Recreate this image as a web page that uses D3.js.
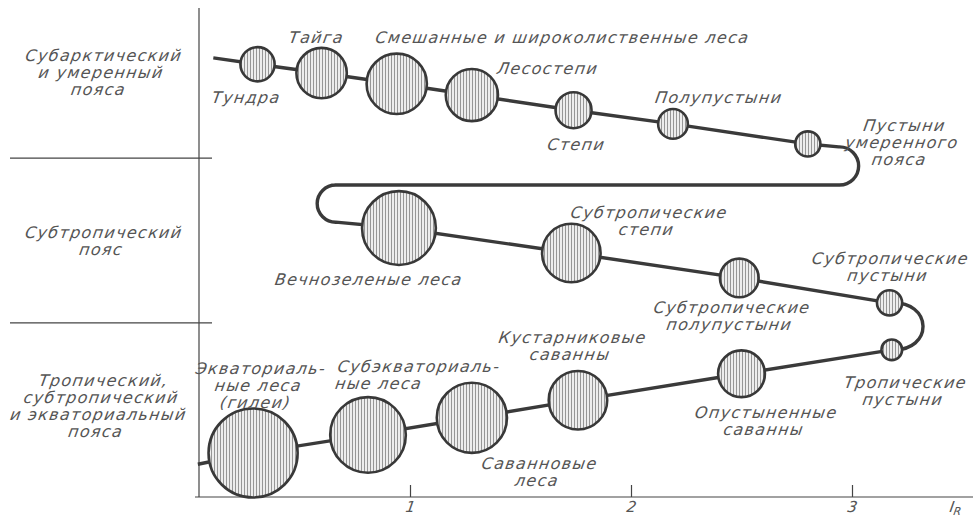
<!DOCTYPE html>
<html>
<head>
<meta charset="utf-8">
<script src="https://cdn.jsdelivr.net/npm/d3@7"></script>
<style>
    body { margin: 0; background: #fff; }
    text { font-family: "DejaVu Sans", sans-serif; font-style: italic; fill: #555; }
</style>
</head>
<body>
<div id="chart"></div>
<script>
// Biomes in the order the chain runs through them ("|" splits a label into lines)
const biomes = [
    "Тундра", "Тайга", "Смешанные и широколиственные леса", "Лесостепи", "Степи", "Полупустыни", "Пустыни|умеренного|пояса",
    "Вечнозеленые леса", "Субтропические|степи", "Субтропические|полупустыни", "Субтропические|пустыни",
    "Тропические|пустыни", "Опустыненные|саванны", "Кустарниковые|саванны", "Саванновые|леса",
    "Субэкваториаль-|ные леса", "Экваториаль-|ные леса|(гилеи)"
]
const belt         = [0, 0, 0, 0, 0, 0, 0, 1, 1, 1, 1, 2, 2, 2, 2, 2, 2]
const dryness      = [0.31, 0.60, 0.94, 1.28, 1.74, 2.19, 2.80, 0.95, 1.73, 2.49, 3.17, 3.18, 2.50, 1.76, 1.28, 0.81, 0.29]
const level        = [8.85, 8.67, 8.45, 8.22, 7.91, 7.63, 7.22, 5.50, 4.99, 4.48, 3.97, 3.01, 2.52, 1.98, 1.62, 1.27, 0.90]
const productivity = [3.8, 5.6, 6.7, 5.8, 4.0, 3.3, 2.8, 8.2, 6.5, 4.3, 2.8, 2.3, 5.2, 6.5, 7.8, 8.4, 9.9]

// Climatic belts on the left
const beltNames  = ["Субарктический|и умеренный|пояса", "Субтропический|пояс", "Тропический,|субтропический|и экваториальный|пояса"]
const beltLevels = [8.69, 5.24, 1.88]
const beltBounds = [6.93, 3.56]

const xTicks = [1, 2, 3]

// Turning points of the connecting line, as [dryness, level]
const chainStart = [0.11, 8.98]
const bendNorth  = [[2.94, 7.16], [3.03, 7.16], [3.03, 6.38], [2.94, 6.38]]
const bendWest   = [[0.66, 6.38], [0.58, 6.38], [0.58, 5.62], [0.66, 5.62]]
const bendSouth  = [[3.37, 4.03], [3.37, 2.97]]
const chainEnd   = [0.04, 0.67]

// Label placement relative to its circle: dx, dy (px), anchor
const labelLayout = [
    [-11, 33, "middle"], [-5, -36, "middle"], [-21, -47, "start"], [76, -27, "middle"],
    [3, 34, "middle"], [46, -27, "middle"], [97, -19, "middle"],
    [-30, 51, "middle"], [78, -41, "middle"], [-7, 29, "middle"], [1, -45, "middle"],
    [14, 32, "middle"], [25, 38, "middle"], [-5, -63, "middle"], [68, 45, "middle"],
    [-30, -69, "start"], [8, -85, "middle"]
]

const WIDTH = 973
const HEIGHT = 519
const AXIS = {LEFT: 199, TOP: 8, BOTTOM: 497, RIGHT: 973}
const LINE_H = 17
const SLANT = "skewX(-9)"   // hand-lettered italic leans more than the font

let svg = d3.select("#chart").append("svg")
    .attr("width", WIDTH)
    .attr("height", HEIGHT)

// vertical hatching used inside the circles
let pattern = svg.append("defs").append("pattern")
    .attr("id", "hatch")
    .attr("width", 3)
    .attr("height", 4)
    .attr("patternUnits", "userSpaceOnUse")
pattern.append("rect").attr("width", 3).attr("height", 4).attr("fill", "#ededed")
pattern.append("line")
    .attr("x1", 1.5).attr("x2", 1.5).attr("y1", 0).attr("y2", 4)
    .attr("stroke", "#8c8c8c").attr("stroke-width", 0.9)

let xScale = d3.scaleLinear().domain([1, 3]).range([410, 852])
let yScale = d3.scaleLinear().domain([0, 10]).range([AXIS.BOTTOM, AXIS.TOP])
let rScale = d3.scaleLinear().domain([0, 10]).range([0, 45])

const P = p => [xScale(p[0]), yScale(p[1])]
const idx = d3.range(biomes.length)
const beltIdx = b => idx.filter(i => belt[i] === b)

// frame: vertical axis, belt separators, horizontal axis
svg.append("line")
    .attr("x1", AXIS.LEFT).attr("x2", AXIS.LEFT)
    .attr("y1", AXIS.TOP).attr("y2", AXIS.BOTTOM)
    .attr("stroke", "#444").attr("stroke-width", 1.2)

svg.selectAll(".sep").data(beltBounds).enter().append("line")
    .attr("x1", 10).attr("x2", AXIS.LEFT + 13)
    .attr("y1", d => yScale(d)).attr("y2", d => yScale(d))
    .attr("stroke", "#444").attr("stroke-width", 1.2)

let xAxis = svg.append("g")
    .attr("transform", "translate(0," + AXIS.BOTTOM + ")")
    .call(d3.axisBottom(xScale).tickValues(xTicks).tickSize(-12).tickPadding(4).tickFormat(d3.format("d")))
xAxis.select(".domain").remove()
xAxis.selectAll("line").attr("stroke", "#444").attr("stroke-width", 1.2)
xAxis.selectAll("text")
    .attr("transform", SLANT)
    .style("font-family", "DejaVu Sans, sans-serif").style("font-style", "italic")
    .style("font-size", "15px").style("fill", "#555")
xAxis.selectAll(".tick text").attr("x", 1.5)
xAxis.append("line")
    .attr("x1", AXIS.LEFT - 4).attr("x2", AXIS.RIGHT)
    .attr("stroke", "#444").attr("stroke-width", 1.2)

let iR = svg.append("g").attr("transform", "translate(949,512) " + SLANT)
    .append("text")
    .style("font-size", "15px")
iR.append("tspan").text("I")
iR.append("tspan").attr("dy", 3).style("font-size", "11px").text("R")

// connecting chain
let chain = d3.path()
chain.moveTo(...P(chainStart))
beltIdx(0).forEach(i => chain.lineTo(xScale(dryness[i]), yScale(level[i])))
{
    let [a, b, c, d] = bendNorth.map(P)
    let r = (c[1] - b[1]) / 2
    chain.lineTo(...a)
    chain.arcTo(b[0], b[1], c[0], c[1], r)
    chain.arcTo(c[0], c[1], d[0], d[1], r)
}
{
    let [a, b, c, d] = bendWest.map(P)
    let r = (c[1] - b[1]) / 2
    chain.lineTo(...a)
    chain.arcTo(b[0], b[1], c[0], c[1], r)
    chain.arcTo(c[0], c[1], d[0], d[1], r)
}
beltIdx(1).forEach(i => chain.lineTo(xScale(dryness[i]), yScale(level[i])))
{
    let [c1, c2] = bendSouth.map(P)
    let first = beltIdx(2)[0]
    chain.bezierCurveTo(c1[0], c1[1], c2[0], c2[1], xScale(dryness[first]), yScale(level[first]))
}
beltIdx(2).forEach(i => chain.lineTo(xScale(dryness[i]), yScale(level[i])))
chain.lineTo(...P(chainEnd))

svg.append("path")
    .attr("d", chain.toString())
    .attr("fill", "none")
    .attr("stroke", "#3a3a3a")
    .attr("stroke-width", 3.4)
    .attr("stroke-linejoin", "round")

// circles
svg.selectAll("circle").data(idx).enter().append("circle")
    .attr("cx", i => xScale(dryness[i]))
    .attr("cy", i => yScale(level[i]))
    .attr("r", i => rScale(productivity[i]))
    .attr("fill", "url(#hatch)")
    .attr("stroke", "#383838")
    .attr("stroke-width", 2.6)

// labels: a slanted group at the anchor point, lines stacked inside it
function addLabel(parent, x, y, lines, anchor) {
    let text = parent.append("g")
        .attr("transform", "translate(" + x + "," + y + ") " + SLANT)
        .append("text")
        .attr("text-anchor", anchor)
        .attr("dominant-baseline", "central")
        .style("font-size", "16px")
        .style("letter-spacing", "1.3px")
    lines.forEach((t, k) => text.append("tspan")
        .attr("x", 0)
        .attr("y", k * LINE_H)
        .text(t))
}

let labels = svg.append("g")
idx.forEach(i => addLabel(labels,
    xScale(dryness[i]) + labelLayout[i][0],
    yScale(level[i]) + labelLayout[i][1],
    biomes[i].split("|"), labelLayout[i][2]))

beltNames.forEach((d, k) => {
    let lines = d.split("|")
    addLabel(labels, 104, yScale(beltLevels[k]) - (lines.length - 1) * LINE_H / 2, lines, "middle")
})
</script>
</body>
</html>
